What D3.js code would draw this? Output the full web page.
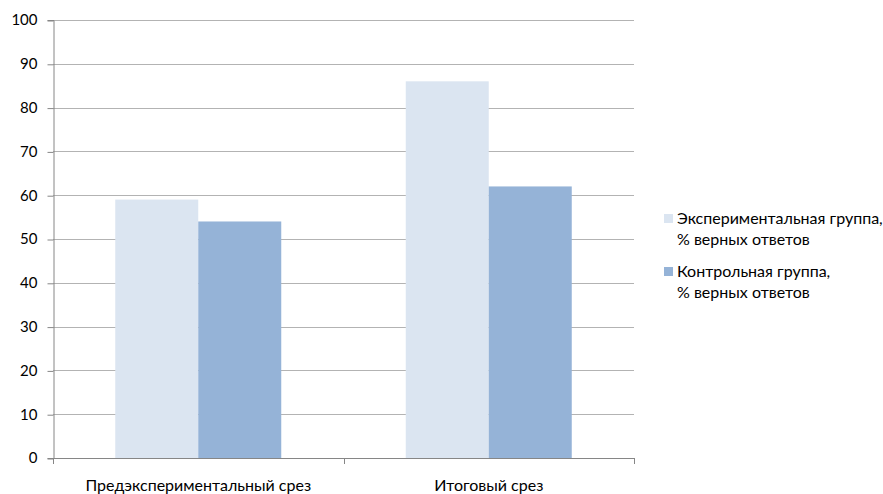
<!DOCTYPE html>
<html>
<head>
<meta charset="utf-8">
<script src="https://cdn.jsdelivr.net/npm/d3@7"></script>
<style>
  html, body { margin: 0; padding: 0; background: #fff; }
  text { font-family: Lato, "Open Sans", sans-serif; fill: #000; }
</style>
</head>
<body>
<svg id="chart" width="883" height="494"></svg>
<script>
const categories = ["Предэкспериментальный срез", "Итоговый срез"];
const seriesNames = [
  ["Экспериментальная группа,", "% верных ответов"],
  ["Контрольная группа,", "% верных ответов"]
];
const experimental = [59, 86];
const control = [54, 62];
const yTicks = [0, 10, 20, 30, 40, 50, 60, 70, 80, 90, 100];
const colors = ["#dbe5f1", "#95b3d7"];

const svg = d3.select("#chart");
const plot = { left: 53, right: 634, top: 20, bottom: 458 };

const x = d3.scaleBand().domain(categories).range([plot.left, plot.right]);
const xInner = d3.scaleBand().domain([0, 1]).range([0, x.bandwidth()])
  .paddingInner(0).paddingOuter(0.75);
const y = d3.scaleLinear().domain([0, 100]).range([plot.bottom, plot.top]);

// horizontal gridlines
svg.append("g").selectAll("line").data(yTicks.filter(d => d > 0)).join("line")
  .attr("x1", plot.left).attr("x2", plot.right)
  .attr("y1", d => Math.round(y(d)) + 0.5).attr("y2", d => Math.round(y(d)) + 0.5)
  .attr("stroke", "#b3b3b3").attr("stroke-width", 1);

// bars
const series = [experimental, control];
const g = svg.append("g");
series.forEach((vals, si) => {
  g.selectAll(null).data(categories).join("rect")
    .attr("x", (c) => x(c) + xInner(si))
    .attr("width", xInner.bandwidth())
    .attr("y", (c, i) => y(vals[i]))
    .attr("height", (c, i) => plot.bottom - y(vals[i]))
    .attr("fill", colors[si]);
});

// y axis
const yAxis = d3.axisLeft(y).tickValues(yTicks).tickSize(6).tickPadding(10).tickFormat(d3.format("d"));
const ya = svg.append("g").attr("transform", `translate(${plot.left + 0.5},0)`).call(yAxis);
ya.select(".domain").attr("stroke", "#868686");
ya.selectAll(".tick line").attr("stroke", "#868686")
  .attr("transform", "translate(0,0.5)");
ya.selectAll(".tick text").attr("font-size", "15px").attr("font-family", "Lato, sans-serif").attr("fill", "#000");

// x axis
const xAxis = d3.axisBottom(x).tickSize(0).tickPadding(21);
const xa = svg.append("g").attr("transform", `translate(0,${plot.bottom + 0.5})`).call(xAxis);
xa.select(".domain").attr("stroke", "#868686").attr("d", `M${plot.left},0H${plot.right}`);
xa.selectAll(".tick text").attr("font-size", "16px").attr("font-family", "Lato, sans-serif").attr("fill", "#000");
// category separators
svg.append("g").selectAll("line")
  .data([plot.left, ...categories.map(c => x(c) + x.bandwidth())])
  .join("line")
  .attr("x1", d => Math.round(d) + 0.5).attr("x2", d => Math.round(d) + 0.5)
  .attr("y1", plot.bottom).attr("y2", plot.bottom + 6)
  .attr("stroke", "#868686");

// legend
const legend = svg.append("g").attr("transform", "translate(664,214)");
seriesNames.forEach((lines, i) => {
  const item = legend.append("g").attr("transform", `translate(0,${i * 53})`);
  item.append("rect").attr("width", 9).attr("height", 9).attr("fill", colors[i]);
  item.append("text").attr("x", 13).attr("y", 10).attr("font-size", "16px").text(lines[0]);
  item.append("text").attr("x", 13).attr("y", 31).attr("font-size", "16px").text(lines[1]);
});
</script>
</body>
</html>
